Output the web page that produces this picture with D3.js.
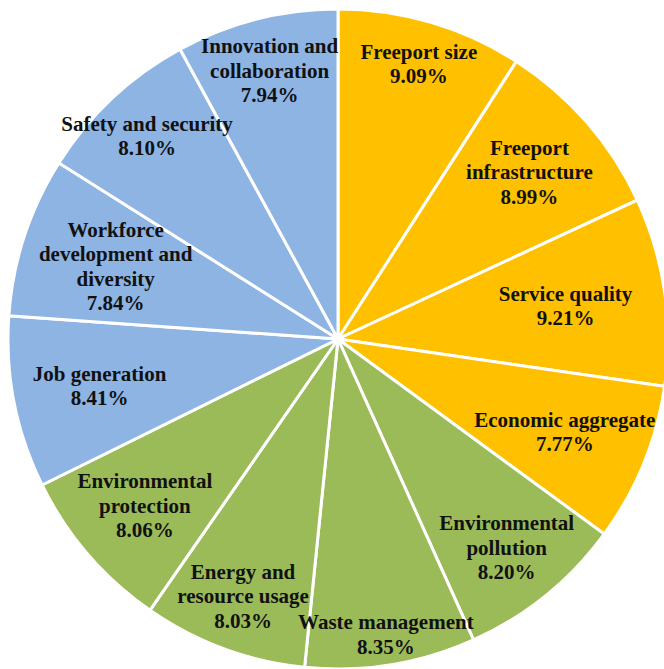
<!DOCTYPE html>
<html lang="en">
	<head>
		<title>Freeport indicator weights</title>
		<style>
			body { margin: 0; background: #fff; }
			.slice { stroke: #fff; stroke-width: 3px; }
			.label {
				font-family: "Liberation Serif", "Times New Roman", serif;
				font-weight: bold;
				font-size: 21px;
				fill: #111;
			}
		</style>
	</head>
	<body>
		<div id="graphic"></div>

		<script src="https://cdnjs.cloudflare.com/ajax/libs/d3/7.8.5/d3.min.js"></script>
		<script>
			// data, clockwise from 12 o'clock
			var categories = [
				'Freeport size', 'Freeport infrastructure', 'Service quality', 'Economic aggregate',
				'Environmental pollution', 'Waste management', 'Energy and resource usage', 'Environmental protection',
				'Job generation', 'Workforce development and diversity', 'Safety and security', 'Innovation and collaboration'
			];
			var values = [9.09, 8.99, 9.21, 7.77, 8.20, 8.35, 8.03, 8.06, 8.41, 7.84, 8.10, 7.94];
			var groups = ['economic', 'economic', 'economic', 'economic',
				'environmental', 'environmental', 'environmental', 'environmental',
				'social', 'social', 'social', 'social'];
			var labelLines = [
				['Freeport size'], ['Freeport', 'infrastructure'], ['Service quality'], ['Economic aggregate'],
				['Environmental', 'pollution'], ['Waste management'], ['Energy and', 'resource usage'], ['Environmental', 'protection'],
				['Job generation'], ['Workforce', 'development and', 'diversity'], ['Safety and security'], ['Innovation and', 'collaboration']
			];

			// layout
			var width = 664,
				height = 669,
				cx = 338,
				cy = 339,
				radius = 330,
				lineH = 24.5;
			// distance of each label centre from the pie centre
			var labelDist = [287, 254, 230, 245, 268, 299, 274, 255, 243, 234, 279, 277];

			var color = d3.scaleOrdinal()
				.domain(['economic', 'environmental', 'social'])
				.range(['#FFC000', '#9BBB59', '#8DB4E2']);

			var svg = d3.select('#graphic')
				.append('svg')
				.attr('width', width)
				.attr('height', height);

			var pie = d3.pie().sort(null).value(function(d) { return d.value; });
			var arc = d3.arc().innerRadius(0).outerRadius(radius);

			var data = values.map(function(v, i) {
				return { name: categories[i], value: v, group: groups[i], lines: labelLines[i], dist: labelDist[i] };
			});
			var arcs = pie(data);

			var g = svg.append('g')
				.attr('transform', 'translate(' + cx + ',' + cy + ')');

			g.selectAll('.slice')
				.data(arcs)
				.enter()
					.append('path')
					.classed('slice', true)
					.attr('d', arc)
					.attr('fill', function(d) { return color(d.data.group); });

			var labels = g.selectAll('.label')
				.data(arcs)
				.enter()
					.append('text')
					.classed('label', true)
					.attr('text-anchor', 'middle')
					.attr('transform', function(d) {
						var a = (d.startAngle + d.endAngle) / 2,
							r = d.data.dist;
						return 'translate(' + (Math.sin(a) * r) + ',' + (-Math.cos(a) * r) + ')';
					});

			labels.each(function(d) {
				var lines = d.data.lines.concat([d3.format('.2f')(d.data.value) + '%']);
				var t = d3.select(this);
				var y0 = -(lines.length - 1) * lineH / 2;
				lines.forEach(function(l, i) {
					t.append('tspan')
						.attr('x', 0)
						.attr('y', y0 + i * lineH)
						.attr('dy', '0.35em')
						.text(l);
				});
			});
		</script>
	</body>
</html>
